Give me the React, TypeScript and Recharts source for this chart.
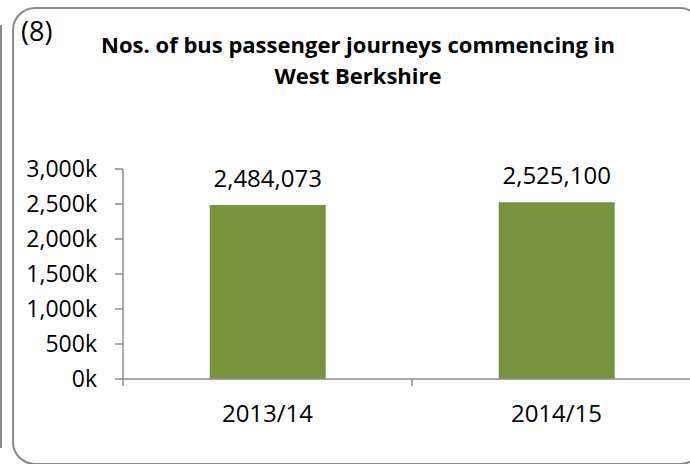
import React from 'react';
import { BarChart, Bar, XAxis, YAxis, LabelList } from 'recharts';

const categories = ['2013/14', '2014/15'];
const journeys = [2484073, 2525100];
const yTicks = [0, 500000, 1000000, 1500000, 2000000, 2500000, 3000000];
const titleLines = ['Nos. of bus passenger journeys commencing in', 'West Berkshire'];
const panelLabel = '(8)';

const data = categories.map((c, i) => ({ period: c, journeys: journeys[i] }));

const FONT = '"Open Sans", sans-serif';
const AXIS = '#8c8c8c';
const BAR = '#77933C';

const fmtK = (v: number) => `${(v / 1000).toLocaleString('en-US')}k`;
const fmtNum = (v: any) => Number(v).toLocaleString('en-US');

const XTick = (props: any) => {
  const { x, y, payload, index, visibleTicksCount } = props;
  const off = payload && typeof payload.offset === 'number' ? payload.offset : 0;
  const axisY = y - 26;
  return (
    <g>
      <line x1={x - off} x2={x - off} y1={axisY} y2={axisY + 7} stroke={AXIS} strokeWidth={1.5} />
      {index === visibleTicksCount - 1 && (
        <line x1={x + off} x2={x + off} y1={axisY} y2={axisY + 7} stroke={AXIS} strokeWidth={1.5} />
      )}
      <text x={x} y={y} dy={17} textAnchor="middle" fontSize={24} fontFamily={FONT} fill="#000">
        {payload.value}
      </text>
    </g>
  );
};

export default function App() {
  return (
    <div
      style={{
        position: 'absolute',
        left: 0,
        top: 0,
        width: 690,
        height: 464,
        overflow: 'hidden',
        background: '#fff',
      }}
    >
      <div style={{ position: 'absolute', left: 0, top: 0 }}>
        <BarChart
          width={720}
          height={464}
          data={data}
          margin={{ top: 169, right: 19, bottom: 25, left: 0 }}
          barCategoryGap="30%"
        >
          <XAxis
            dataKey="period"
            height={60}
            tickLine={false}
            tickSize={7}
            tickMargin={19}
            axisLine={{ stroke: AXIS, strokeWidth: 1.5 }}
            tick={<XTick />}
            interval={0}
          />
          <YAxis
            width={123}
            domain={[0, 3000000]}
            ticks={yTicks}
            tickFormatter={fmtK}
            tickSize={8}
            tickMargin={18}
            axisLine={{ stroke: AXIS, strokeWidth: 1.5 }}
            tickLine={{ stroke: AXIS, strokeWidth: 1.5 }}
            tick={{ fontSize: 23, fill: '#000', fontFamily: FONT }}
            interval={0}
          />
          <Bar dataKey="journeys" fill={BAR} isAnimationActive={false}>
            <LabelList
              dataKey="journeys"
              position="top"
              offset={18}
              formatter={fmtNum}
              style={{ fontSize: 24, fill: '#000', fontFamily: FONT }}
            />
          </Bar>
        </BarChart>
      </div>
      <svg
        width={690}
        height={464}
        style={{ position: 'absolute', left: 0, top: 0, pointerEvents: 'none' }}
      >
        <line x1={1} x2={1} y1={25} y2={448} stroke="#8a8a8a" strokeWidth={2} />
        <rect x={13} y={8} width={689} height={456} rx={22} ry={22} fill="none" stroke="#8a8a8a" strokeWidth={2} />
        <text x={21} y={41} fontSize={27} fontFamily={FONT} fill="#000">
          {panelLabel}
        </text>
        {titleLines.map((t, i) => (
          <text
            key={i}
            x={358}
            y={53 + i * 31}
            textAnchor="middle"
            fontSize={22}
            fontWeight="bold"
            fontFamily={FONT}
            fill="#000"
          >
            {t}
          </text>
        ))}
      </svg>
    </div>
  );
}
